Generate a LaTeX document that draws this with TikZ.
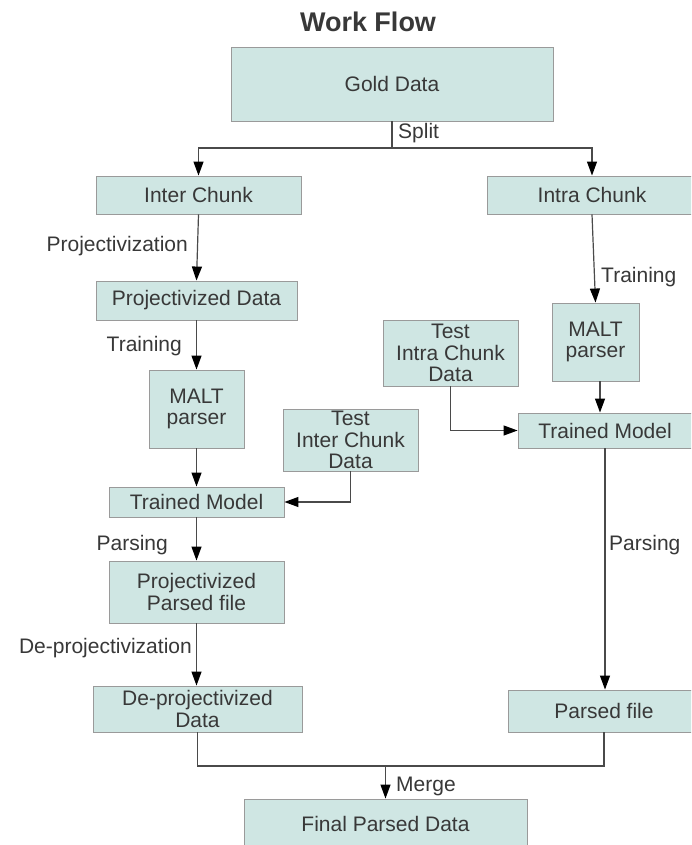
\documentclass[tikz,border=0pt]{standalone}
\usepackage{fontspec}
\setmainfont{Liberation Sans}
\usetikzlibrary{arrows.meta}
\definecolor{boxfill}{HTML}{CFE6E3}
\definecolor{boxline}{HTML}{9A9A9A}
\definecolor{txt}{HTML}{383838}
\definecolor{conn}{HTML}{4A4A4A}
\begin{document}
\begin{tikzpicture}[x=1pt,y=-1pt,
  box/.style={draw=boxline,fill=boxfill,line width=0.9pt,inner sep=0pt,align=center,text=txt,font=\fontsize{21}{21.5}\selectfont},
  lbl/.style={text=txt,inner sep=0pt,font=\fontsize{21}{21.5}\selectfont},
  arr/.style={draw=conn,line width=1.2pt,-{Triangle[length=14pt,width=10pt,color=black,fill=black]}},
  ln/.style={draw=conn,line width=1.2pt}]
\useasboundingbox (0,0) rectangle (691,845);
\clip (0,0) rectangle (691,845);
\fill[white] (0,0) rectangle (691,845);

\node[font=\bfseries\fontsize{27}{30}\selectfont,text=txt] (title) at (368,22) {Work Flow};

% boxes
\node[box,minimum width=322pt,minimum height=74pt] (gold) at (392,84) {Gold Data};
\node[box,minimum width=205pt,minimum height=38pt] (inter) at (198.5,195) {Inter Chunk};
\node[box,minimum width=210pt,minimum height=38pt] (intra) at (592,195) {Intra Chunk};
\node[box,minimum width=201pt,minimum height=39pt] (projdata) at (196.5,300.5) {Projectivized Data};
\node[box,minimum width=95pt,minimum height=78pt] (maltL) at (196.5,409) {MALT\\parser};
\node[box,minimum width=135pt,minimum height=62pt] (testInter) at (350.5,440) {Test\\Inter Chunk\\Data};
\node[box,minimum width=175pt,minimum height=30pt] (tmL) at (196.5,502) {Trained Model};
\node[box,minimum width=175pt,minimum height=62pt] (projparsed) at (196.5,592) {Projectivized\\Parsed file};
\node[box,minimum width=209pt,minimum height=46pt] (deproj) at (197.5,709) {De-projectivized\\Data};
\node[box,minimum width=283pt,minimum height=50pt] (final) at (385.5,824) {Final Parsed Data};
\node[box,minimum width=87pt,minimum height=78pt] (maltR) at (595.5,342) {MALT\\parser};
\node[box,minimum width=135pt,minimum height=66pt] (testIntra) at (450.5,353) {Test\\Intra Chunk\\Data};
\node[box,minimum width=174pt,minimum height=35pt] (tmR) at (605,430.5) {Trained Model};
\node[box,minimum width=192pt,minimum height=42pt] (parsed) at (604,711) {Parsed file};

% connectors
\coordinate (sp) at (392,148);
\draw[ln] (gold.south) -- (sp);
\draw[arr] (sp) -| (inter.north);
\draw[arr] (sp) -| (intra.north);
\draw[arr] (inter.south) -- (projdata.north);
\draw[arr] (projdata.south) -- (maltL.north);
\draw[arr] (maltL.south) -- (tmL.north);
\draw[arr] (testInter.south) |- (tmL.east);
\draw[arr] (tmL.south) -- (projparsed.north);
\draw[arr] (projparsed.south) -- (projparsed.south |- deproj.north);
\draw[arr] (intra.south) -- (maltR.north);
\draw[arr] ([xshift=4.5pt]maltR.south) -- ([xshift=4.5pt]maltR.south |- tmR.north);
\draw[arr] (testIntra.south) |- (tmR.west);
\draw[arr] (tmR.south) -- (tmR.south |- parsed.north);
\coordinate (mg) at (385.5,766);
\draw[ln] (deproj.south) |- (parsed.south |- mg) -- (parsed.south);
\draw[arr] (mg) -- (final.north);

% labels
\node[lbl,anchor=west] (lsplit) at (398,133) {Split};
\node[lbl,anchor=east] (lproj) at (188,246) {Projectivization};
\node[lbl,anchor=east] (ltrainL) at (182,346) {Training};
\node[lbl,anchor=east] (lparseL) at (168,545) {Parsing};
\node[lbl,anchor=east] (ldeproj) at (192,648) {De-projectivization};
\node[lbl,anchor=west] (ltrainR) at (601,277) {Training};
\node[lbl,anchor=west] (lparseR) at (609,545) {Parsing};
\node[lbl,anchor=west] (lmerge) at (396,786) {Merge};
\end{tikzpicture}
\end{document}
